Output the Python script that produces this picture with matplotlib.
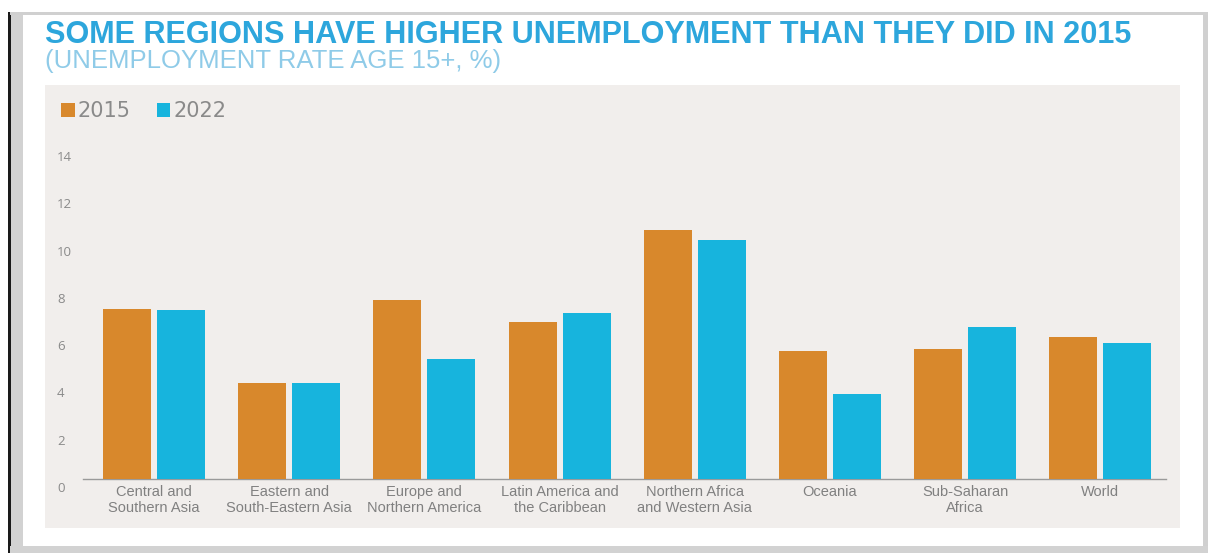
import matplotlib
matplotlib.use("Agg")
import matplotlib.pyplot as plt
import matplotlib.transforms as mtransforms
from matplotlib.patches import Rectangle
import numpy as np

# ---------------- data ----------------
categories = [
    "Central and\nSouthern Asia",
    "Eastern and\nSouth-Eastern Asia",
    "Europe and\nNorthern America",
    "Latin America and\nthe Caribbean",
    "Northern Africa\nand Western Asia",
    "Oceania",
    "Sub-Saharan\nAfrica",
    "World",
]
series_names = ["2015", "2022"]
values_2015 = [7.18, 4.05, 7.57, 6.63, 10.53, 5.41, 5.48, 6.02]
values_2022 = [7.13, 4.05, 5.07, 7.01, 10.11, 3.58, 6.41, 5.76]
y_ticks = [0, 2, 4, 6, 8, 10, 12, 14]

title = "SOME REGIONS HAVE HIGHER UNEMPLOYMENT THAN THEY DID IN 2015"
subtitle = "(UNEMPLOYMENT RATE AGE 15+, %)"

# ---------------- style ----------------
ORANGE = "#d8882c"
BLUE = "#17b4dd"
PANEL = "#f1eeec"
GREY_TXT = "#8a8a8a"
TITLE_C = "#2da6dc"
SUB_C = "#8fcbe8"

W, H = 1211, 553
DPI = 100
fig = plt.figure(figsize=(W / DPI, H / DPI), dpi=DPI)
fig.patch.set_facecolor("white")


def px_rect(x0, y0, x1, y1, color):
    """rectangle in pixel coords (y from top)"""
    fig.patches.append(Rectangle((x0 / W, 1 - y1 / H), (x1 - x0) / W, (y1 - y0) / H,
                                 transform=fig.transFigure, facecolor=color,
                                 edgecolor="none", zorder=-5))

# outer frame
px_rect(10.5, 12, 23, 553, "#d2d2d2")        # left grey band
px_rect(8, 12, 10.5, 553, "#1a1a1a")          # black line
px_rect(10.5, 12, 1208, 15, "#d0d0d0")        # top line
px_rect(1203, 12, 1208, 553, "#d0d0d0")       # right band
px_rect(10.5, 546, 1208, 553, "#d2d2d2")      # bottom band
# plot panel
px_rect(45, 85, 1180, 528, PANEL)

# ---------------- axes ----------------
ax_left, ax_right = 83, 1166
y0_px = 479
px_per_unit = 23.65
ymax = 14.6
ax_top = y0_px - ymax * px_per_unit
ax = fig.add_axes([ax_left / W, 1 - y0_px / H, (ax_right - ax_left) / W, (y0_px - ax_top) / H])
ax.set_facecolor("none")
ax.set_zorder(2)

x = np.arange(len(categories))
bw = 0.355
gap = 0.044
b1 = ax.bar(x - (bw + gap) / 2, values_2015, width=bw, color=ORANGE, label=series_names[0], zorder=3)
b2 = ax.bar(x + (bw + gap) / 2, values_2022, width=bw, color=BLUE, label=series_names[1], zorder=3)

ax.set_xlim(-0.525, len(categories) - 1 + 0.485)
ax.set_ylim(0, ymax)
for s in ["top", "right", "left"]:
    ax.spines[s].set_visible(False)
ax.spines["bottom"].set_color("#9a9a9a")
ax.spines["bottom"].set_linewidth(1.0)

ax.set_yticks(y_ticks)
ax.set_yticklabels([str(v) for v in y_ticks], fontsize=9.5, color=GREY_TXT,
                   family=["Open Sans", "DejaVu Sans"], ha="left")
ax.tick_params(axis="y", length=0, pad=(ax_left - 57) * 72 / DPI)
offset = mtransforms.ScaledTranslation(0, -8 / DPI, fig.dpi_scale_trans)
for lab in ax.get_yticklabels():
    lab.set_transform(lab.get_transform() + offset)

ax.set_xticks(x)
ax.set_xticklabels(categories, fontsize=10.5, color="#808080",
                   family=["Liberation Sans Narrow", "Liberation Sans"], linespacing=1.25)
ax.tick_params(axis="x", length=0, pad=4)

# legend
leg = fig.legend(handles=[b1, b2], labels=series_names, loc="upper left",
                 bbox_to_anchor=(61 / W, 1 - 101 / H), ncol=2, frameon=False,
                 handlelength=0.65, handleheight=0.65, handletextpad=0.15,
                 columnspacing=1.25, borderpad=0, borderaxespad=0,
                 prop={"family": "DejaVu Sans", "size": 15})
leg.set_zorder(5)
for t in leg.get_texts():
    t.set_color("#8a8a8a")

# titles
t1 = fig.text(45 / W, 1 - 43 / H, title, fontsize=16, fontweight="bold", color=TITLE_C,
              family="Liberation Sans", va="baseline", ha="left")
t2 = fig.text(45 / W, 1 - 68 / H, subtitle, fontsize=12, color=SUB_C,
              family="Liberation Sans", va="baseline", ha="left")

fig.canvas.draw()
r = fig.canvas.get_renderer()
for t, target in [(t1, 1135 - 45), (t2, 500 - 45)]:
    w = t.get_window_extent(r).width
    t.set_fontsize(t.get_fontsize() * target / w)

fig.savefig("out.png", dpi=DPI)
